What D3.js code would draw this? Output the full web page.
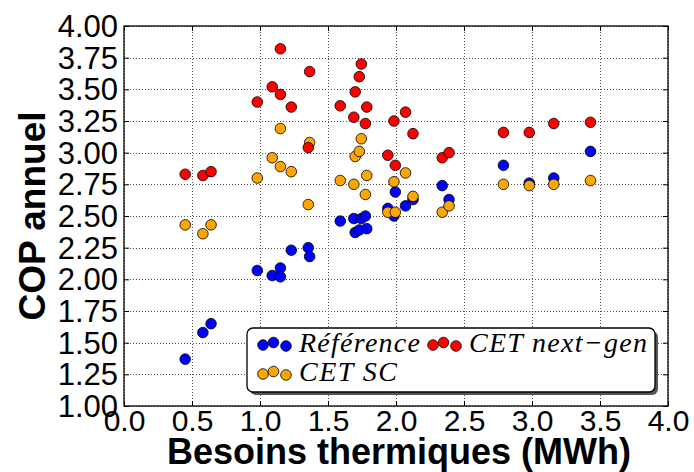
<!DOCTYPE html>
<html>
<head>
<meta charset="utf-8">
<script src="https://cdn.jsdelivr.net/npm/d3@7"></script>
<style>
  body { margin: 0; background: #fff; }
  svg { display: block; }
</style>
</head>
<body>
<div id="chart"></div>
<script>
// besoins thermiques (MWh) per building, and annual COP for each variant
var besoins = [0.45, 0.58, 0.64, 0.98, 1.09, 1.15, 1.15, 1.23, 1.355, 1.365,
               1.59, 1.69, 1.70, 1.73, 1.745, 1.775, 1.785, 1.94, 1.985, 1.995,
               2.07, 2.125, 2.34, 2.39, 2.79, 2.98, 3.16, 3.43];
var copReference = [1.37, 1.58, 1.65, 2.07, 2.03, 2.09, 2.02, 2.23, 2.25, 2.18,
                    2.46, 2.48, 2.37, 2.39, 2.48, 2.50, 2.40, 2.56, 2.50, 2.69,
                    2.58, 2.63, 2.74, 2.63, 2.90, 2.76, 2.80, 3.01];
var copNextGen = [2.83, 2.82, 2.85, 3.40, 3.52, 3.82, 3.46, 3.36, 3.04, 3.64,
                  3.37, 3.28, 3.48, 3.60, 3.70, 3.23, 3.36, 2.98, 3.25, 2.90,
                  3.32, 3.15, 2.96, 3.00, 3.16, 3.16, 3.23, 3.24];
var copSC = [2.43, 2.36, 2.43, 2.80, 2.96, 3.19, 2.89, 2.85, 2.59, 3.08,
             2.78, 2.75, 2.97, 3.01, 3.11, 2.67, 2.82, 2.53, 2.77, 2.53,
             2.84, 2.655, 2.53, 2.58, 2.75, 2.74, 2.75, 2.78];

var xTicks = [0, 0.5, 1, 1.5, 2, 2.5, 3, 3.5, 4];
var yTicks = [1, 1.25, 1.5, 1.75, 2, 2.25, 2.5, 2.75, 3, 3.25, 3.5, 3.75, 4];

var series = [
    { name: "Référence", values: copReference, colour: "#0000ff" },
    { name: "CET next\u2212gen", values: copNextGen, colour: "#ff0000" },
    { name: "CET SC", values: copSC, colour: "#ffa500" }
];
// drawing order: blue, orange, red
var drawOrder = [0, 2, 1];

var width = 694;
var height = 472;
var margin = { top: 26, right: 26, bottom: 66, left: 124 };
var innerW = width - margin.left - margin.right;
var innerH = height - margin.top - margin.bottom;

var x = d3.scaleLinear().domain([0, 4]).range([0, innerW]);
var y = d3.scaleLinear().domain([1, 4]).range([innerH, 0]);

var svg = d3.select("#chart").append("svg")
    .attr("width", width)
    .attr("height", height);

var g = svg.append("g")
    .attr("transform", "translate(" + margin.left + "," + margin.top + ")");

// grid
g.append("g").selectAll("line.vgrid")
    .data(xTicks)
    .enter().append("line")
    .attr("x1", function(d) { return Math.round(x(d)) + 0.5; })
    .attr("x2", function(d) { return Math.round(x(d)) + 0.5; })
    .attr("y1", 0).attr("y2", innerH)
    .style("stroke", "#555").style("stroke-width", 1)
    .style("stroke-dasharray", "1,2");

g.append("g").selectAll("line.hgrid")
    .data(yTicks)
    .enter().append("line")
    .attr("y1", function(d) { return Math.round(y(d)) + 0.5; })
    .attr("y2", function(d) { return Math.round(y(d)) + 0.5; })
    .attr("x1", 0).attr("x2", innerW)
    .style("stroke", "#555").style("stroke-width", 1)
    .style("stroke-dasharray", "1,2");

// axes with inward ticks
var tickFont = "Liberation Sans, Arial, sans-serif";
var xAxis = g.append("g")
    .attr("transform", "translate(0," + innerH + ")")
    .call(d3.axisBottom(x).tickValues(xTicks).tickFormat(d3.format(".1f"))
        .tickSize(-5).tickPadding(4));
var yAxis = g.append("g")
    .call(d3.axisLeft(y).tickValues(yTicks).tickFormat(d3.format(".2f"))
        .tickSize(-5).tickPadding(5));
g.append("g")
    .call(d3.axisTop(x).tickValues(xTicks).tickFormat("").tickSize(-5));
g.append("g")
    .attr("transform", "translate(" + innerW + ",0)")
    .call(d3.axisRight(y).tickValues(yTicks).tickFormat("").tickSize(-5));

g.selectAll(".domain").remove();
g.selectAll(".tick line").style("stroke", "#000");
xAxis.selectAll("text")
    .style("font-family", tickFont).style("font-size", "30px")
    .attr("dy", null).attr("y", 25);
yAxis.selectAll("text")
    .style("font-family", tickFont).style("font-size", "31px")
    .attr("dy", "0.34em").attr("x", -6);

// frame
g.append("rect")
    .attr("x", 0).attr("y", 0)
    .attr("width", innerW).attr("height", innerH)
    .style("fill", "none").style("stroke", "#000").style("stroke-width", 1.3);

// points
drawOrder.forEach(function(i) {
    var s = series[i];
    g.append("g").selectAll("circle")
        .data(s.values)
        .enter().append("circle")
        .attr("cx", function(d, j) { return x(besoins[j]); })
        .attr("cy", function(d) { return y(d); })
        .attr("r", 5.3)
        .style("fill", s.colour)
        .style("stroke", "#000")
        .style("stroke-width", 0.8);
});

// axis titles
svg.append("text")
    .attr("x", margin.left + innerW / 2 + 3)
    .attr("y", 464)
    .attr("text-anchor", "middle")
    .style("font-family", tickFont).style("font-weight", "bold")
    .style("font-size", "36px")
    .text("Besoins thermiques (MWh)");

svg.append("text")
    .attr("transform", "translate(45," + (margin.top + innerH / 2) + ") rotate(-90)")
    .attr("text-anchor", "middle")
    .style("font-family", tickFont).style("font-weight", "bold")
    .style("font-size", "37px")
    .text("COP annuel");

// legend
var legend = svg.append("g").attr("transform", "translate(247,328)");
legend.append("rect")
    .attr("x", 3).attr("y", 3).attr("width", 408).attr("height", 64)
    .attr("rx", 6)
    .style("fill", "#555");
legend.append("rect")
    .attr("x", 0).attr("y", 0).attr("width", 408).attr("height", 64)
    .attr("rx", 6)
    .style("fill", "#fff").style("stroke", "#000").style("stroke-width", 1.3);

var legendPos = [{ x: 10, y: 24, tw: 121 }, { x: 180, y: 24, tw: 178 }, { x: 10, y: 53, tw: 98 }];
var markerOffsets = [[0, 0], [10.5, -2.5], [23, 1]];
series.forEach(function(s, i) {
    var p = legendPos[i];
    var item = legend.append("g").attr("transform", "translate(" + p.x + "," + p.y + ")");
    item.selectAll("circle")
        .data(markerOffsets)
        .enter().append("circle")
        .attr("cx", function(d) { return 6 + d[0]; })
        .attr("cy", function(d) { return -7 + d[1]; })
        .attr("r", 5.3)
        .style("fill", s.colour)
        .style("stroke", "#000")
        .style("stroke-width", 0.8);
    item.append("text")
        .attr("x", 42).attr("y", 0)
        .attr("textLength", p.tw)
        .attr("lengthAdjust", "spacing")
        .style("font-family", "Liberation Serif, Times New Roman, serif")
        .style("font-style", "italic")
        .style("font-size", "28px")
        .text(s.name);
});
</script>
</body>
</html>
